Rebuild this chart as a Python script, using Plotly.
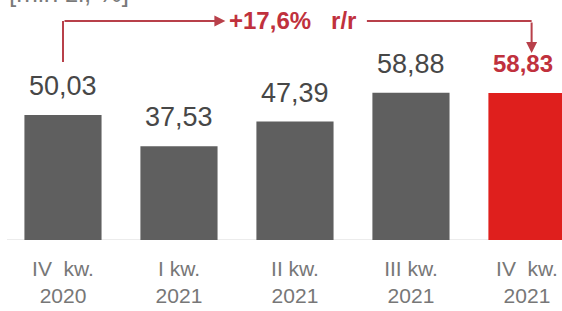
import plotly.graph_objects as go

categories = ["IV\u00a0 kw.<br>2020", "I kw.<br>2021", "II kw.<br>2021", "III kw.<br>2021", "IV\u00a0 kw.<br>2021"]
values = [50.03, 37.53, 47.39, 58.88, 58.83]
value_labels = ["50,03", "37,53", "47,39", "58,88", "58,83"]
growth_label = "+17,6%\u00a0\u00a0\u00a0r/r"
unit_label = "[mln zł, %]"

FONT = "Arial, Liberation Sans, sans-serif"
GRAY_BAR = "#5f5f5f"
RED_BAR = "#df1f1d"
RED_TXT = "#c0313d"
ARROW = "#b8404a"

xs = list(range(len(values)))
colors = [GRAY_BAR] * (len(values) - 1) + [RED_BAR]

fig = go.Figure()
fig.add_trace(go.Bar(x=xs, y=values, marker=dict(color=colors, line=dict(width=0)),
                     width=0.665, hoverinfo="skip"))

annotations = []
for i, (v, lab) in enumerate(zip(values, value_labels)):
    last = i == len(values) - 1
    annotations.append(dict(
        x=i, y=v, xref="x", yref="y", text=lab, showarrow=False,
        yanchor="middle", yshift=29, xshift=-4 if last else 0,
        font=dict(family=FONT, size=24 if last else 27,
                  color=RED_TXT if last else "#474747",
                  weight="bold" if last else "normal"),
    ))

# growth annotation text
annotations.append(dict(x=1.98, y=87.6, xref="x", yref="y", text=growth_label,
                        showarrow=False, xanchor="center", yanchor="middle", yshift=1,
                        font=dict(family=FONT, size=24, color=RED_TXT, weight="bold")))
# arrow heads
annotations.append(dict(x=1.40, y=87.6, ax=0, ay=87.6, xref="x", yref="y", axref="x", ayref="y",
                        text="", showarrow=True, arrowhead=2, arrowsize=1.1, arrowwidth=2,
                        arrowcolor=ARROW))
annotations.append(dict(x=4.04, y=74.8, ax=4.04, ay=87.6, xref="x", yref="y", axref="x", ayref="y",
                        text="", showarrow=True, arrowhead=2, arrowsize=1.1, arrowwidth=2,
                        arrowcolor=ARROW))
# unit label, cut by the top edge
annotations.append(dict(x=0.012, y=1.03, xref="paper", yref="paper", text=unit_label,
                        showarrow=False, xanchor="left", yanchor="middle",
                        font=dict(family=FONT, size=26, color="#7a7a7a")))

shapes = [
    dict(type="line", xref="paper", yref="y", x0=7 / 562, x1=1, y0=0, y1=0,
         line=dict(color="#d9d9d9", width=1.2), layer="below"),
    dict(type="line", xref="x", yref="y", x0=0, x1=0, y0=71.2, y1=87.6,
         line=dict(color=ARROW, width=2)),
    dict(type="line", xref="x", yref="y", x0=2.62, x1=4.04, y0=87.6, y1=87.6,
         line=dict(color=ARROW, width=2)),
]

fig.update_layout(
    width=562, height=311,
    margin=dict(l=0, r=0, t=0, b=71),
    paper_bgcolor="white", plot_bgcolor="white",
    showlegend=False,
    annotations=annotations, shapes=shapes,
    xaxis=dict(range=[-0.543, 4.302], tickmode="array", tickvals=xs, ticktext=categories,
               showgrid=False, zeroline=False, showline=False,
               ticks="", ticklabelstandoff=14,
               tickfont=dict(family=FONT, size=21, color="#777777"),
               automargin=False, fixedrange=True),
    yaxis=dict(range=[0, 96], visible=False, showgrid=False, zeroline=False,
               automargin=False, fixedrange=True),
)

fig.write_html("out.html", config={"displayModeBar": False},
               post_script="document.body.style.margin='0';")
